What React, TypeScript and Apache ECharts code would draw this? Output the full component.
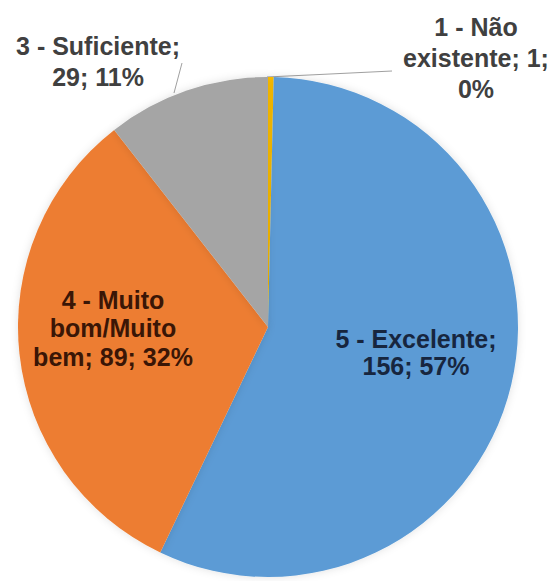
import React, { useEffect, useRef } from "react";
import * as echarts from "echarts";

const names = ["1 - Não existente", "5 - Excelente", "4 - Muito bom/Muito bem", "3 - Suficiente"];
const values = [1, 156, 89, 29];
const colors = ["#FFC000", "#5B9BD5", "#ED7D31", "#A5A5A5"];
const textColors = ["#404040", "#17263f", "#3a1606", "#404040"];
const outside = [true, false, false, true];
// word index after which the label wraps to a new line
const breakAfterWord = [[2, 4], [2], [2, 3], [2]];

// label layout (positions in px)
const labelCenters = [
  [476, 58],
  [416, 352],
  [113, 328],
  [98, 61],
];
const lineHeights = [31, 27, 28.5, 31];
const leaderLines: (number[][] | null)[] = [
  [[267, 77], [330, 74], [392, 71]],
  null,
  null,
  [[174, 93], [178, 78], [182, 63]],
];

function wrapText(text: string, breaks: number[]) {
  const words = text.split(" ");
  let out = "";
  words.forEach((w, i) => {
    out += w;
    if (i < words.length - 1) out += breaks.includes(i) ? "\n" : " ";
  });
  return out;
}

export default function App() {
  const ref = useRef<HTMLDivElement>(null);
  useEffect(() => {
    if (!ref.current) return;
    const chart = echarts.init(ref.current, undefined, { renderer: "svg" });
    const data = names.map((n, i) => ({
      name: n,
      value: values[i],
      itemStyle: { color: colors[i] },
      label: {
        color: textColors[i],
        lineHeight: lineHeights[i],
      },
      labelLine: { show: outside[i] },
    }));
    chart.setOption({
      animation: false,
      backgroundColor: "#ffffff",
      series: [
        {
          type: "pie",
          center: [268, 327],
          radius: 250,
          startAngle: 90,
          clockwise: true,
          percentPrecision: 0,
          avoidLabelOverlap: false,
          data,
          itemStyle: {
            borderWidth: 0,
            shadowBlur: 8,
            shadowColor: "rgba(0,0,0,0.12)",
          },
          label: {
            show: true,
            position: "outside",
            formatter: (p: any) =>
              wrapText(`${p.name}; ${p.value}; ${p.percent}%`, breakAfterWord[p.dataIndex]),
            fontFamily: "Liberation Sans, Arial, sans-serif",
            fontWeight: "bold",
            fontSize: 25,
            align: "center",
          },
          labelLine: {
            show: true,
            lineStyle: { color: "#a0a0a0", width: 1 },
          },
          emphasis: { disabled: true },
          labelLayout: (params: any) => {
            const i = params.dataIndex;
            const res: any = {
              x: labelCenters[i][0],
              y: labelCenters[i][1],
              align: "center",
              verticalAlign: "middle",
            };
            if (leaderLines[i]) res.labelLinePoints = leaderLines[i];
            return res;
          },
        },
      ],
    });
    return () => chart.dispose();
  }, []);
  return (
    <div
      ref={ref}
      style={{ position: "fixed", left: 0, top: 0, width: 557, height: 581 }}
    />
  );
}
